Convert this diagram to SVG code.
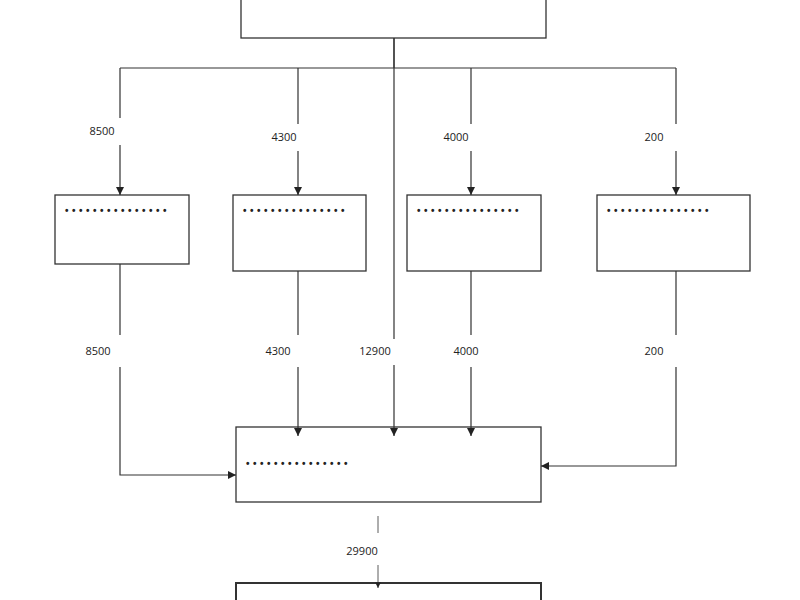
<svg xmlns="http://www.w3.org/2000/svg" width="800" height="600" viewBox="0 0 800 600">
<style>
.b{fill:#fff;stroke:#333;stroke-width:1.3}
.l{fill:none;stroke:#333;stroke-width:1.2}
.t{font-family:"Open Sans","Liberation Sans",sans-serif;font-size:11px;fill:#222;text-anchor:middle}
.d{font-family:"Liberation Sans",sans-serif;font-size:10px;font-weight:bold;fill:#222;letter-spacing:3.5px}
</style>
<defs><marker id="a" viewBox="0 0 10 10" refX="10" refY="5" markerWidth="7" markerHeight="7" orient="auto"><path d="M0,0L10,5L0,10z" fill="#222"/></marker></defs>
<rect width="800" height="600" fill="#fff"/>
<g id="top"><rect class="b" x="241" y="-2" width="305" height="40"/></g>
<g id="n1"><rect class="b" x="55" y="195" width="134" height="69"/><text class="d" x="65" y="214">•••••••••••••••</text></g>
<g id="n2"><rect class="b" x="233" y="195" width="133" height="76"/><text class="d" x="243" y="214">•••••••••••••••</text></g>
<g id="n3"><rect class="b" x="407" y="195" width="134" height="76"/><text class="d" x="417" y="214">•••••••••••••••</text></g>
<g id="n4"><rect class="b" x="597" y="195" width="153" height="76"/><text class="d" x="607" y="214">•••••••••••••••</text></g>
<g id="main"><rect class="b" x="236" y="427" width="305" height="75"/><text class="d" x="246" y="467">•••••••••••••••</text></g>
<g id="bottom"><rect class="b" x="236" y="583" width="305" height="30" style="stroke-width:2"/></g>
<g id="connectors">
<path class="l" d="M394,38V68M120,68H676"/>
<path class="l" d="M120,68V118M120,145V195" marker-end="url(#a)"/>
<path class="l" d="M298,68V124M298,151V195" marker-end="url(#a)"/>
<path class="l" d="M471,68V124M471,151V195" marker-end="url(#a)"/>
<path class="l" d="M676,68V124M676,151V195" marker-end="url(#a)"/>
<path class="l" d="M394,38V339M394,365V436" marker-end="url(#a)"/>
<path class="l" d="M120,264V335M120,367V475H236" marker-end="url(#a)"/>
<path class="l" d="M298,271V335M298,367V436" marker-end="url(#a)"/>
<path class="l" d="M471,271V335M471,367V436" marker-end="url(#a)"/>
<path class="l" d="M676,271V335M676,367V466H541" marker-end="url(#a)"/>
<path class="l" d="M378,516V533M378,565V588" marker-end="url(#a)" style="stroke-width:0.8"/>
<text class="t" x="102" y="135">8500</text>
<text class="t" x="284" y="141">4300</text>
<text class="t" x="456" y="141">4000</text>
<text class="t" x="654" y="141">200</text>
<text class="t" x="98" y="355">8500</text>
<text class="t" x="278" y="355">4300</text>
<text class="t" x="375" y="355">12900</text>
<text class="t" x="466" y="355">4000</text>
<text class="t" x="654" y="355">200</text>
<text class="t" x="362" y="555">29900</text>
</g>
</svg>
